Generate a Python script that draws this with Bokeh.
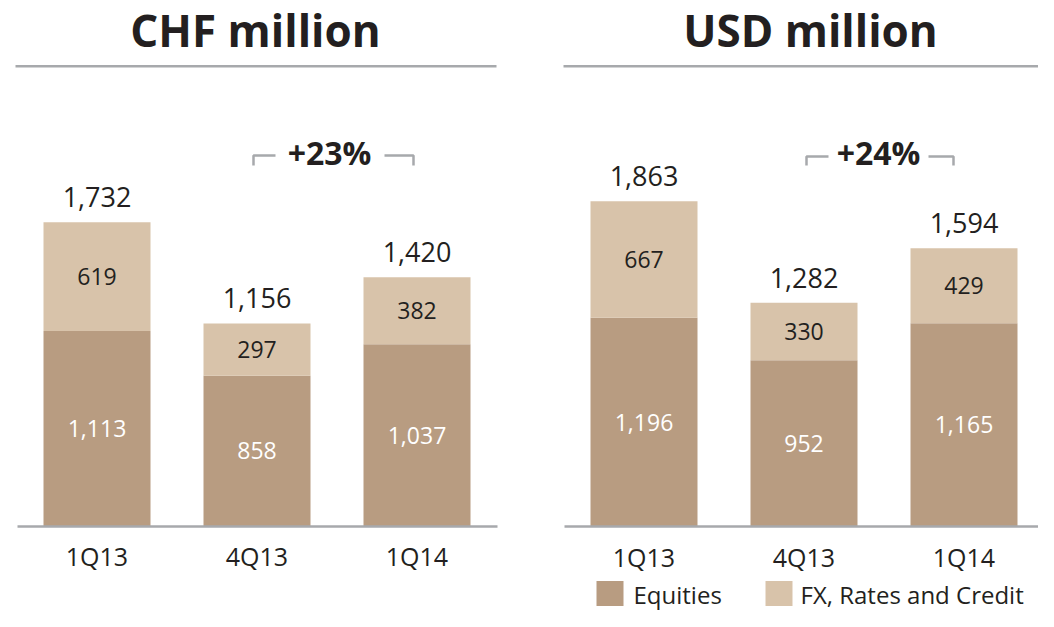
from bokeh.plotting import figure
from bokeh.layouts import row
from bokeh.models import Range1d, FixedTicker, LinearAxis, ColumnDataSource
from bokeh.core.properties import value
from bokeh.embed import file_html
from bokeh.resources import INLINE

# ---- data ----
quarters = ["1Q13", "4Q13", "1Q14"]
chf_equities = [1113, 858, 1037]
chf_fx = [619, 297, 382]
chf_total = [1732, 1156, 1420]
usd_equities = [1196, 952, 1165]
usd_fx = [667, 330, 429]
usd_total = [1863, 1282, 1594]
panel_titles = ["CHF million", "USD million"]
changes = ["+23%", "+24%"]
series_names = ["Equities", "FX, Rates and Credit"]

# ---- style ----
DARK = "#B89C81"
LIGHT = "#D8C3AA"
TEXT = "#231F20"
GREY = "#A7A9AC"
FONT = "Open Sans"
W, H = 519, 611
STEP = 160.0
BAR_W = 107 / STEP


def fmt(v):
    return f"{v:,}"


def make_panel(page_x0, center0, base, scale, eq, fx, tot, title, change,
               title_cx, line_x, bracket, change_c, legend=False):
    def xd(px):
        return (px - center0) / STEP

    def yd(py):
        return (base - py) * scale

    p = figure(width=W, height=H,
               x_range=Range1d(xd(page_x0), xd(page_x0 + W)),
               y_range=Range1d(yd(H), yd(0)),
               x_axis_type=None, y_axis_type=None,
               output_backend="svg", toolbar_location=None,
               min_border=0, outline_line_color=None)
    p.grid.visible = False
    p.background_fill_color = "white"
    p.border_fill_color = "white"

    xs = list(range(len(quarters)))
    src = ColumnDataSource(dict(
        x=xs, eq=eq, fx=fx, tot=tot,
        eq_lbl=[fmt(v) for v in eq], fx_lbl=[fmt(v) for v in fx],
        tot_lbl=[fmt(v) for v in tot],
        eq_mid=[e / 2 for e in eq],
        fx_mid=[e + f / 2 for e, f in zip(eq, fx)],
        tot_y=[t + 25 * scale for t in tot],
    ))
    p.vbar_stack(["eq", "fx"], x="x", width=BAR_W, color=[DARK, LIGHT],
                 line_color=None, source=src)

    # axis as baseline
    ax = LinearAxis(fixed_location=0, bounds=(-0.5, 2.5))
    ax.ticker = FixedTicker(ticks=xs)
    ax.major_label_overrides = {i: q for i, q in enumerate(quarters)}
    ax.axis_line_color = GREY
    ax.axis_line_width = 2.5
    ax.major_tick_line_color = None
    ax.minor_tick_line_color = None
    ax.major_label_text_font = FONT
    ax.major_label_text_font_size = "25px"
    ax.major_label_text_color = TEXT
    ax.major_label_standoff = 7
    p.add_layout(ax, "below")

    # labels
    p.text(x="x", y="eq_mid", text="eq_lbl", source=src, text_align="center",
           text_baseline="middle", text_color="white",
           text_font=value(FONT), text_font_size="23px")
    p.text(x="x", y="fx_mid", text="fx_lbl", source=src, text_align="center",
           text_baseline="middle", text_color=TEXT,
           text_font=value(FONT), text_font_size="23px")
    p.text(x="x", y="tot_y", text="tot_lbl", source=src, text_align="center",
           text_baseline="middle", text_color=TEXT,
           text_font=value(FONT), text_font_size="27px")

    # title and underline
    p.text(x=[xd(title_cx)], y=[yd(29.5)], text=[title], text_align="center",
           text_baseline="middle", text_color=TEXT, text_font=value(FONT),
           text_font_size="44px", text_font_style="bold")
    p.segment(x0=[xd(line_x[0])], y0=[yd(65.7)], x1=[xd(line_x[1])], y1=[yd(65.7)],
              line_color=GREY, line_width=2.5)

    # change bracket
    (l0, l1, r0, r1, by, bt) = bracket
    p.multi_line(xs=[[xd(l0), xd(l0), xd(l1)], [xd(r0), xd(r1), xd(r1)]],
                 ys=[[yd(bt), yd(by), yd(by)], [yd(by), yd(by), yd(bt)]],
                 line_color=GREY, line_width=2.5)
    p.text(x=[xd(change_c[0])], y=[yd(change_c[1])], text=[change],
           text_align="center", text_baseline="middle", text_color=TEXT,
           text_font=value(FONT), text_font_size="32px", text_font_style="bold")

    if legend:
        p.rect(x=[xd(609.5), xd(778.5)], y=[yd(593), yd(593)],
               width=27, height=25, width_units="screen", height_units="screen",
               color=[DARK, LIGHT], line_color=None)
        p.text(x=[xd(633), xd(800)], y=[yd(593.5), yd(593.5)], text=series_names,
               text_align="left", text_baseline="middle", text_color=TEXT,
               text_font=value(FONT), text_font_size="24px")
    return p


left = make_panel(0, 96.5, 525.7, 5.70, chf_equities, chf_fx, chf_total,
                  panel_titles[0], changes[0], 255, (15, 496),
                  (253, 275, 384, 413, 155, 165), (329, 152))
right = make_panel(519, 643.5, 526.0, 5.73, usd_equities, usd_fx, usd_total,
                   panel_titles[1], changes[1], 810, (563, 1043),
                   (806, 828, 928, 953, 156, 165), (878, 152), legend=True)

layout = row(left, right)
open("out.html", "w").write(file_html(layout, INLINE))
